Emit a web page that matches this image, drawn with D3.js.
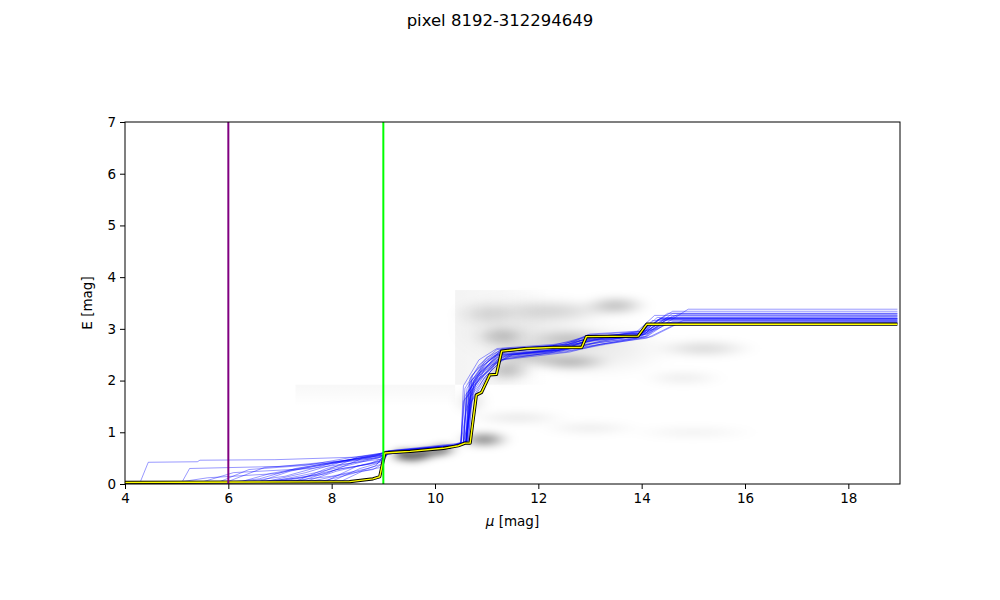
<!DOCTYPE html>
<html>
<head>
<meta charset="utf-8">
<script src="https://cdn.jsdelivr.net/npm/d3@7"></script>
<style>
  body { margin: 0; background: #fff; }
  svg { font-family: "DejaVu Sans", sans-serif; }
</style>
</head>
<body>
<svg id="chart" width="1000" height="600"></svg>
<script>
// axis ranges + ticks
const xDomain = [4, 19]
const yDomain = [0, 7]
const xTicks = [4, 6, 8, 10, 12, 14, 16, 18]
const yTicks = [0, 1, 2, 3, 4, 5, 6, 7]

// reference distances (purple / green markers)
const markerMu = [6, 9]
const markerColor = ['#800080', '#00ff00']

// best fit reddening profile [mu, E]
const bestFit = [
  [4, 0.03], [8.35, 0.045], [8.8, 0.1], [8.93, 0.14], [9.03, 0.6], [9.32, 0.62],
  [9.52, 0.63], [10.16, 0.69], [10.45, 0.74], [10.58, 0.79], [10.68, 0.79],
  [10.8, 1.72], [10.9, 1.77], [11.06, 2.11], [11.19, 2.12], [11.29, 2.57],
  [11.77, 2.62], [12.28, 2.64], [12.84, 2.64], [12.93, 2.85], [13.93, 2.86],
  [14.1, 3.09], [18.95, 3.09]
]

// MCMC samples [mu, E]
const samples = [
  [[4,0.03],[6.5,0.04],[7.4,0.12],[8.2,0.3],[8.95,0.42],[9.05,0.6],[10.3,0.7],[10.55,0.8],[10.62,1.75],[10.9,2.15],[11.2,2.5],[12.4,2.6],[13.1,2.78],[14.0,2.86],[14.4,3.18],[18.95,3.18]],
  [[4,0.02],[7.0,0.05],[7.9,0.2],[8.6,0.5],[9.0,0.55],[9.1,0.62],[10.4,0.76],[10.6,0.82],[10.7,2.0],[11.1,2.35],[11.35,2.55],[12.6,2.68],[13.0,2.85],[14.1,2.92],[14.6,3.25],[18.95,3.25]],
  [[4,0.02],[4.3,0.05],[4.45,0.42],[5.4,0.43],[5.45,0.46],[6.9,0.47],[8.5,0.52],[9.0,0.58],[9.1,0.6],[10.3,0.72],[10.5,0.8],[10.55,1.6],[10.8,1.95],[11.3,2.45],[12.2,2.55],[12.9,2.7],[13.9,2.82],[14.2,3.1],[18.95,3.1]],
  [[4,0.02],[5.1,0.03],[5.25,0.3],[7.0,0.34],[8.2,0.45],[9.0,0.52],[9.08,0.58],[10.2,0.68],[10.5,0.78],[10.6,1.4],[10.75,1.9],[11.1,2.3],[11.4,2.45],[12.5,2.55],[13.3,2.7],[14.2,2.85],[14.7,3.1],[18.95,3.12]],
  [[4,0.02],[6.0,0.03],[6.6,0.1],[7.3,0.3],[8.4,0.48],[9.0,0.56],[9.1,0.64],[10.4,0.74],[10.62,0.84],[10.72,2.1],[11.0,2.4],[11.3,2.62],[12.4,2.68],[13.0,2.86],[14.0,2.92],[14.5,3.3],[18.95,3.3]],
  [[4,0.03],[7.2,0.06],[8.0,0.15],[8.7,0.3],[8.95,0.38],[9.05,0.6],[10.3,0.7],[10.62,0.8],[10.68,1.7],[10.95,2.1],[11.25,2.4],[12.3,2.55],[12.95,2.78],[13.95,2.85],[14.15,3.1],[18.95,3.1]],
  [[4,0.02],[6.2,0.03],[6.8,0.2],[7.8,0.38],[8.8,0.55],[9.05,0.62],[10.35,0.76],[10.5,0.8],[10.58,1.85],[10.85,2.3],[11.2,2.6],[12.0,2.65],[12.8,2.72],[13.6,2.9],[14.3,3.0],[14.9,3.38],[18.95,3.38]],
  [[4,0.03],[7.5,0.05],[8.1,0.25],[8.75,0.4],[9.0,0.5],[9.1,0.58],[10.25,0.7],[10.55,0.78],[10.8,2.0],[11.05,2.2],[11.3,2.5],[12.5,2.6],[13.0,2.8],[14.05,2.88],[14.35,3.2],[18.95,3.2]],
  [[4,0.02],[5.5,0.04],[6.1,0.22],[7.6,0.3],[8.5,0.42],[8.95,0.48],[9.05,0.6],[10.3,0.72],[10.6,0.8],[10.65,1.5],[10.9,1.9],[11.15,2.3],[11.45,2.5],[12.7,2.62],[13.2,2.76],[14.1,2.9],[14.6,3.14],[18.95,3.14]],
  [[4,0.02],[7.8,0.05],[8.4,0.2],[8.85,0.35],[9.05,0.6],[10.35,0.72],[10.6,0.8],[10.7,1.75],[10.95,2.2],[11.3,2.55],[12.5,2.66],[12.95,2.88],[14.0,2.95],[14.3,3.22],[18.95,3.22]],
  [[4,0.02],[6.9,0.05],[7.7,0.18],[8.5,0.52],[9.0,0.6],[9.1,0.64],[10.4,0.78],[10.6,0.82],[10.75,1.9],[11.0,2.25],[11.3,2.48],[12.4,2.58],[13.2,2.7],[14.1,2.82],[14.8,3.16],[18.95,3.16]],
  [[4,0.02],[6.3,0.04],[7.1,0.15],[8.0,0.4],[8.9,0.5],[9.05,0.6],[10.3,0.7],[10.5,0.76],[10.55,1.9],[10.85,2.4],[11.2,2.62],[12.3,2.7],[13.0,2.8],[13.9,2.94],[14.25,3.26],[18.95,3.26]],
  [[4,0.03],[8.2,0.06],[8.6,0.25],[8.95,0.32],[9.05,0.58],[10.2,0.68],[10.6,0.78],[10.7,1.7],[11.0,2.1],[11.25,2.35],[11.5,2.5],[12.6,2.58],[13.3,2.72],[14.1,2.85],[14.5,3.12],[18.95,3.12]],
  [[4,0.02],[5.8,0.03],[6.4,0.28],[7.5,0.36],[8.3,0.5],[9.0,0.6],[9.1,0.62],[10.35,0.74],[10.65,0.84],[10.72,1.95],[10.95,2.35],[11.3,2.58],[12.2,2.66],[12.9,2.84],[14.0,2.92],[14.7,3.28],[18.95,3.28]],
  [[4,0.02],[7.3,0.05],[7.9,0.3],[8.6,0.45],[9.0,0.55],[9.08,0.6],[10.3,0.7],[10.55,0.8],[10.6,1.65],[10.85,2.0],[11.2,2.4],[12.4,2.56],[13.1,2.74],[14.0,2.88],[14.4,3.08],[18.95,3.1]],
  [[4,0.02],[6.6,0.05],[7.2,0.25],[8.1,0.42],[8.9,0.56],[9.05,0.62],[10.4,0.75],[10.6,0.8],[10.68,2.05],[11.0,2.45],[11.3,2.6],[12.5,2.7],[13.0,2.9],[14.0,2.96],[14.6,3.34],[18.95,3.34]],
  [[4,0.03],[7.9,0.06],[8.5,0.35],[8.95,0.45],[9.05,0.6],[10.25,0.7],[10.58,0.8],[10.66,1.8],[10.9,2.2],[11.2,2.45],[12.3,2.6],[12.9,2.75],[13.95,2.86],[14.2,3.16],[18.95,3.16]],
  [[4,0.02],[5.0,0.03],[5.6,0.12],[6.9,0.2],[7.7,0.35],[8.7,0.5],[9.05,0.6],[10.3,0.72],[10.55,0.8],[10.62,1.85],[10.9,2.28],[11.25,2.52],[12.5,2.62],[13.1,2.8],[14.1,2.9],[14.5,3.2],[18.95,3.2]],
  [[4,0.02],[7.6,0.05],[8.2,0.18],[8.8,0.28],[9.0,0.4],[9.08,0.6],[10.35,0.72],[10.62,0.82],[10.7,1.6],[10.95,2.05],[11.3,2.4],[12.6,2.55],[13.2,2.7],[14.05,2.84],[14.4,3.12],[18.95,3.14]],
  [[4,0.02],[6.7,0.04],[7.5,0.22],[8.3,0.46],[8.95,0.58],[9.05,0.64],[10.3,0.74],[10.6,0.8],[10.66,1.95],[10.95,2.3],[11.25,2.56],[12.4,2.64],[12.95,2.82],[14.0,2.9],[14.5,3.22],[18.95,3.24]],
  [[4,0.02],[8.0,0.05],[8.55,0.3],[8.9,0.4],[9.05,0.6],[10.3,0.7],[10.55,0.76],[10.63,1.75],[10.88,2.15],[11.2,2.48],[12.3,2.6],[13.0,2.78],[14.0,2.88],[14.3,3.18],[18.95,3.18]],
  [[4,0.02],[6.0,0.05],[6.7,0.32],[7.9,0.4],[8.6,0.5],[9.0,0.56],[9.1,0.62],[10.4,0.74],[10.65,0.84],[10.75,2.0],[11.05,2.4],[11.35,2.6],[12.6,2.7],[13.1,2.85],[14.1,2.94],[14.6,3.3],[18.95,3.3]],
  [[4,0.03],[7.4,0.06],[8.1,0.28],[8.7,0.38],[9.0,0.46],[9.08,0.58],[10.3,0.7],[10.5,0.78],[10.58,1.7],[10.8,2.05],[11.1,2.3],[11.4,2.5],[12.5,2.6],[13.2,2.74],[14.1,2.86],[14.4,3.1],[18.95,3.1]],
  [[4,0.02],[6.8,0.04],[7.6,0.2],[8.4,0.38],[8.95,0.52],[9.05,0.6],[10.35,0.74],[10.6,0.8],[10.7,1.9],[10.95,2.3],[11.25,2.55],[12.4,2.66],[13.0,2.82],[14.0,2.9],[14.35,3.2],[18.95,3.2]]
]

// stellar density blobs behind the samples
const blobMu = [9.4, 9.75, 10.05, 9.6, 10.2, 10.95, 11.6, 13.0, 15.0, 11.4, 12.6, 13.5, 15.2, 11.3, 12.3, 11.8, 14.8, 11.0, 12.6, 10.7, 11.8, 13.2]
const blobE  = [0.56, 0.58, 0.63, 0.5, 0.68, 0.86, 1.28, 1.08, 1.0, 2.2, 2.36, 3.45, 2.62, 2.85, 3.35, 2.5, 2.05, 3.3, 2.8, 1.6, 3.0, 2.6]
const blobSx = [0.25, 0.28, 0.28, 0.16, 0.25, 0.55, 1.1, 1.1, 1.4, 0.55, 0.9, 0.7, 1.1, 0.6, 1.4, 0.8, 0.9, 0.7, 1.0, 0.35, 1.6, 1.6]
const blobSy = [0.14, 0.13, 0.12, 0.1, 0.12, 0.18, 0.16, 0.16, 0.16, 0.26, 0.2, 0.22, 0.2, 0.24, 0.26, 0.28, 0.18, 0.28, 0.22, 0.3, 0.8, 0.6]
const blobA  = [1, 0.95, 0.7, 0.7, 0.5, 0.5, 0.09, 0.07, 0.05, 0.25, 0.28, 0.25, 0.15, 0.22, 0.14, 0.2, 0.07, 0.12, 0.2, 0.12, 0.08, 0.08]

const margin = { top: 122, right: 100, bottom: 116, left: 125 }
const width = 1000 - margin.left - margin.right
const height = 600 - margin.top - margin.bottom

const svg = d3.select('#chart')
const x = d3.scaleLinear().domain(xDomain).range([0, width])
const y = d3.scaleLinear().domain(yDomain).range([height, 0])

const defs = svg.append('defs')
defs.append('clipPath').attr('id', 'plot-clip')
  .append('rect').attr('width', width).attr('height', height)

const blobGrad = defs.append('radialGradient').attr('id', 'blob')
;[[0, 1], [0.3, 0.8], [0.55, 0.45], [0.8, 0.12], [1, 0]].forEach(([o, a]) => {
  blobGrad.append('stop').attr('offset', o).attr('stop-color', '#000').attr('stop-opacity', a)
})
defs.append('filter').attr('id', 'soft')
  .attr('x', '-20%').attr('y', '-20%').attr('width', '140%').attr('height', '140%')
  .append('feGaussianBlur').attr('stdDeviation', '6 3.5')

const colGrad = defs.append('linearGradient').attr('id', 'col-fade')
colGrad.append('stop').attr('offset', 0).attr('stop-color', '#000').attr('stop-opacity', 0.045)
colGrad.append('stop').attr('offset', 0.5).attr('stop-color', '#000').attr('stop-opacity', 0.03)
colGrad.append('stop').attr('offset', 1).attr('stop-color', '#000').attr('stop-opacity', 0)
const bandGrad = defs.append('linearGradient').attr('id', 'band-fade')
  .attr('x1', 0).attr('y1', 0).attr('x2', 0).attr('y2', 1)
bandGrad.append('stop').attr('offset', 0).attr('stop-color', '#000').attr('stop-opacity', 0.03)
bandGrad.append('stop').attr('offset', 1).attr('stop-color', '#000').attr('stop-opacity', 0)

const g = svg.append('g').attr('transform', `translate(${margin.left},${margin.top})`)
const plot = g.append('g').attr('clip-path', 'url(#plot-clip)')

// density background
plot.append('rect')
  .attr('x', x(10.39)).attr('y', y(3.75))
  .attr('width', x(12.2) - x(10.39)).attr('height', y(1.92) - y(3.75))
  .attr('fill', 'url(#col-fade)')
plot.append('rect')
  .attr('x', x(7.3)).attr('y', y(1.92))
  .attr('width', x(10.39) - x(7.3)).attr('height', y(1.5) - y(1.92))
  .attr('fill', 'url(#band-fade)')

plot.append('g').attr('filter', 'url(#soft)')
  .selectAll('ellipse.blob')
  .data(blobMu.map((m, i) => ({ mu: m, e: blobE[i], sx: blobSx[i], sy: blobSy[i], a: blobA[i] })))
  .join('ellipse')
  .attr('class', 'blob')
  .attr('cx', d => x(d.mu))
  .attr('cy', d => y(d.e))
  .attr('rx', d => x(d.mu + d.sx) - x(d.mu))
  .attr('ry', d => y(0) - y(d.sy))
  .attr('fill', 'url(#blob)')
  .attr('fill-opacity', d => d.a)

// samples
const line = d3.line().x(d => x(d[0])).y(d => y(d[1]))
plot.selectAll('path.sample')
  .data(samples)
  .join('path')
  .attr('class', 'sample')
  .attr('d', line)
  .attr('fill', 'none')
  .attr('stroke', '#0000ff')
  .attr('stroke-opacity', 0.4)
  .attr('stroke-width', 1)

// best fit: black under yellow
plot.append('path').datum(bestFit)
  .attr('d', line).attr('fill', 'none')
  .attr('stroke', '#000').attr('stroke-width', 3.2).attr('stroke-linejoin', 'round')
plot.append('path').datum(bestFit)
  .attr('d', line).attr('fill', 'none')
  .attr('stroke', '#ffff00').attr('stroke-width', 1.4).attr('stroke-linejoin', 'round')

// marker distances
plot.selectAll('line.marker')
  .data(markerMu)
  .join('line')
  .attr('class', 'marker')
  .attr('x1', d => x(d)).attr('x2', d => x(d))
  .attr('y1', 0).attr('y2', height)
  .attr('stroke', (d, i) => markerColor[i])
  .attr('stroke-width', 2)

// axes
const xAxis = g.append('g').attr('transform', `translate(0,${height})`)
  .call(d3.axisBottom(x).tickValues(xTicks).tickFormat(d3.format('d')).tickSize(5).tickPadding(4))
const yAxis = g.append('g')
  .call(d3.axisLeft(y).tickValues(yTicks).tickFormat(d3.format('d')).tickSize(5).tickPadding(4))
;[xAxis, yAxis].forEach(a => {
  a.select('.domain').remove()
  a.selectAll('text').attr('font-size', 13.5).attr('fill', '#000').attr('font-family', 'DejaVu Sans')
  a.selectAll('line').attr('stroke', '#000').attr('stroke-width', 1)
})

g.append('rect')
  .attr('width', width).attr('height', height)
  .attr('fill', 'none').attr('stroke', '#000').attr('stroke-width', 1)

// labels
const xLabel = g.append('text')
  .attr('x', width / 2).attr('y', height + 42)
  .attr('text-anchor', 'middle').attr('font-size', 13.5)
xLabel.append('tspan').attr('font-style', 'italic').text('μ')
xLabel.append('tspan').text(' [mag]')

g.append('text')
  .attr('transform', `translate(-33,${height / 2}) rotate(-90)`)
  .attr('text-anchor', 'middle').attr('font-size', 13.5)
  .text('E [mag]')

svg.append('text')
  .attr('x', 500).attr('y', 26)
  .attr('text-anchor', 'middle').attr('font-size', 16.5)
  .text('pixel 8192-312294649')
</script>
</body>
</html>
